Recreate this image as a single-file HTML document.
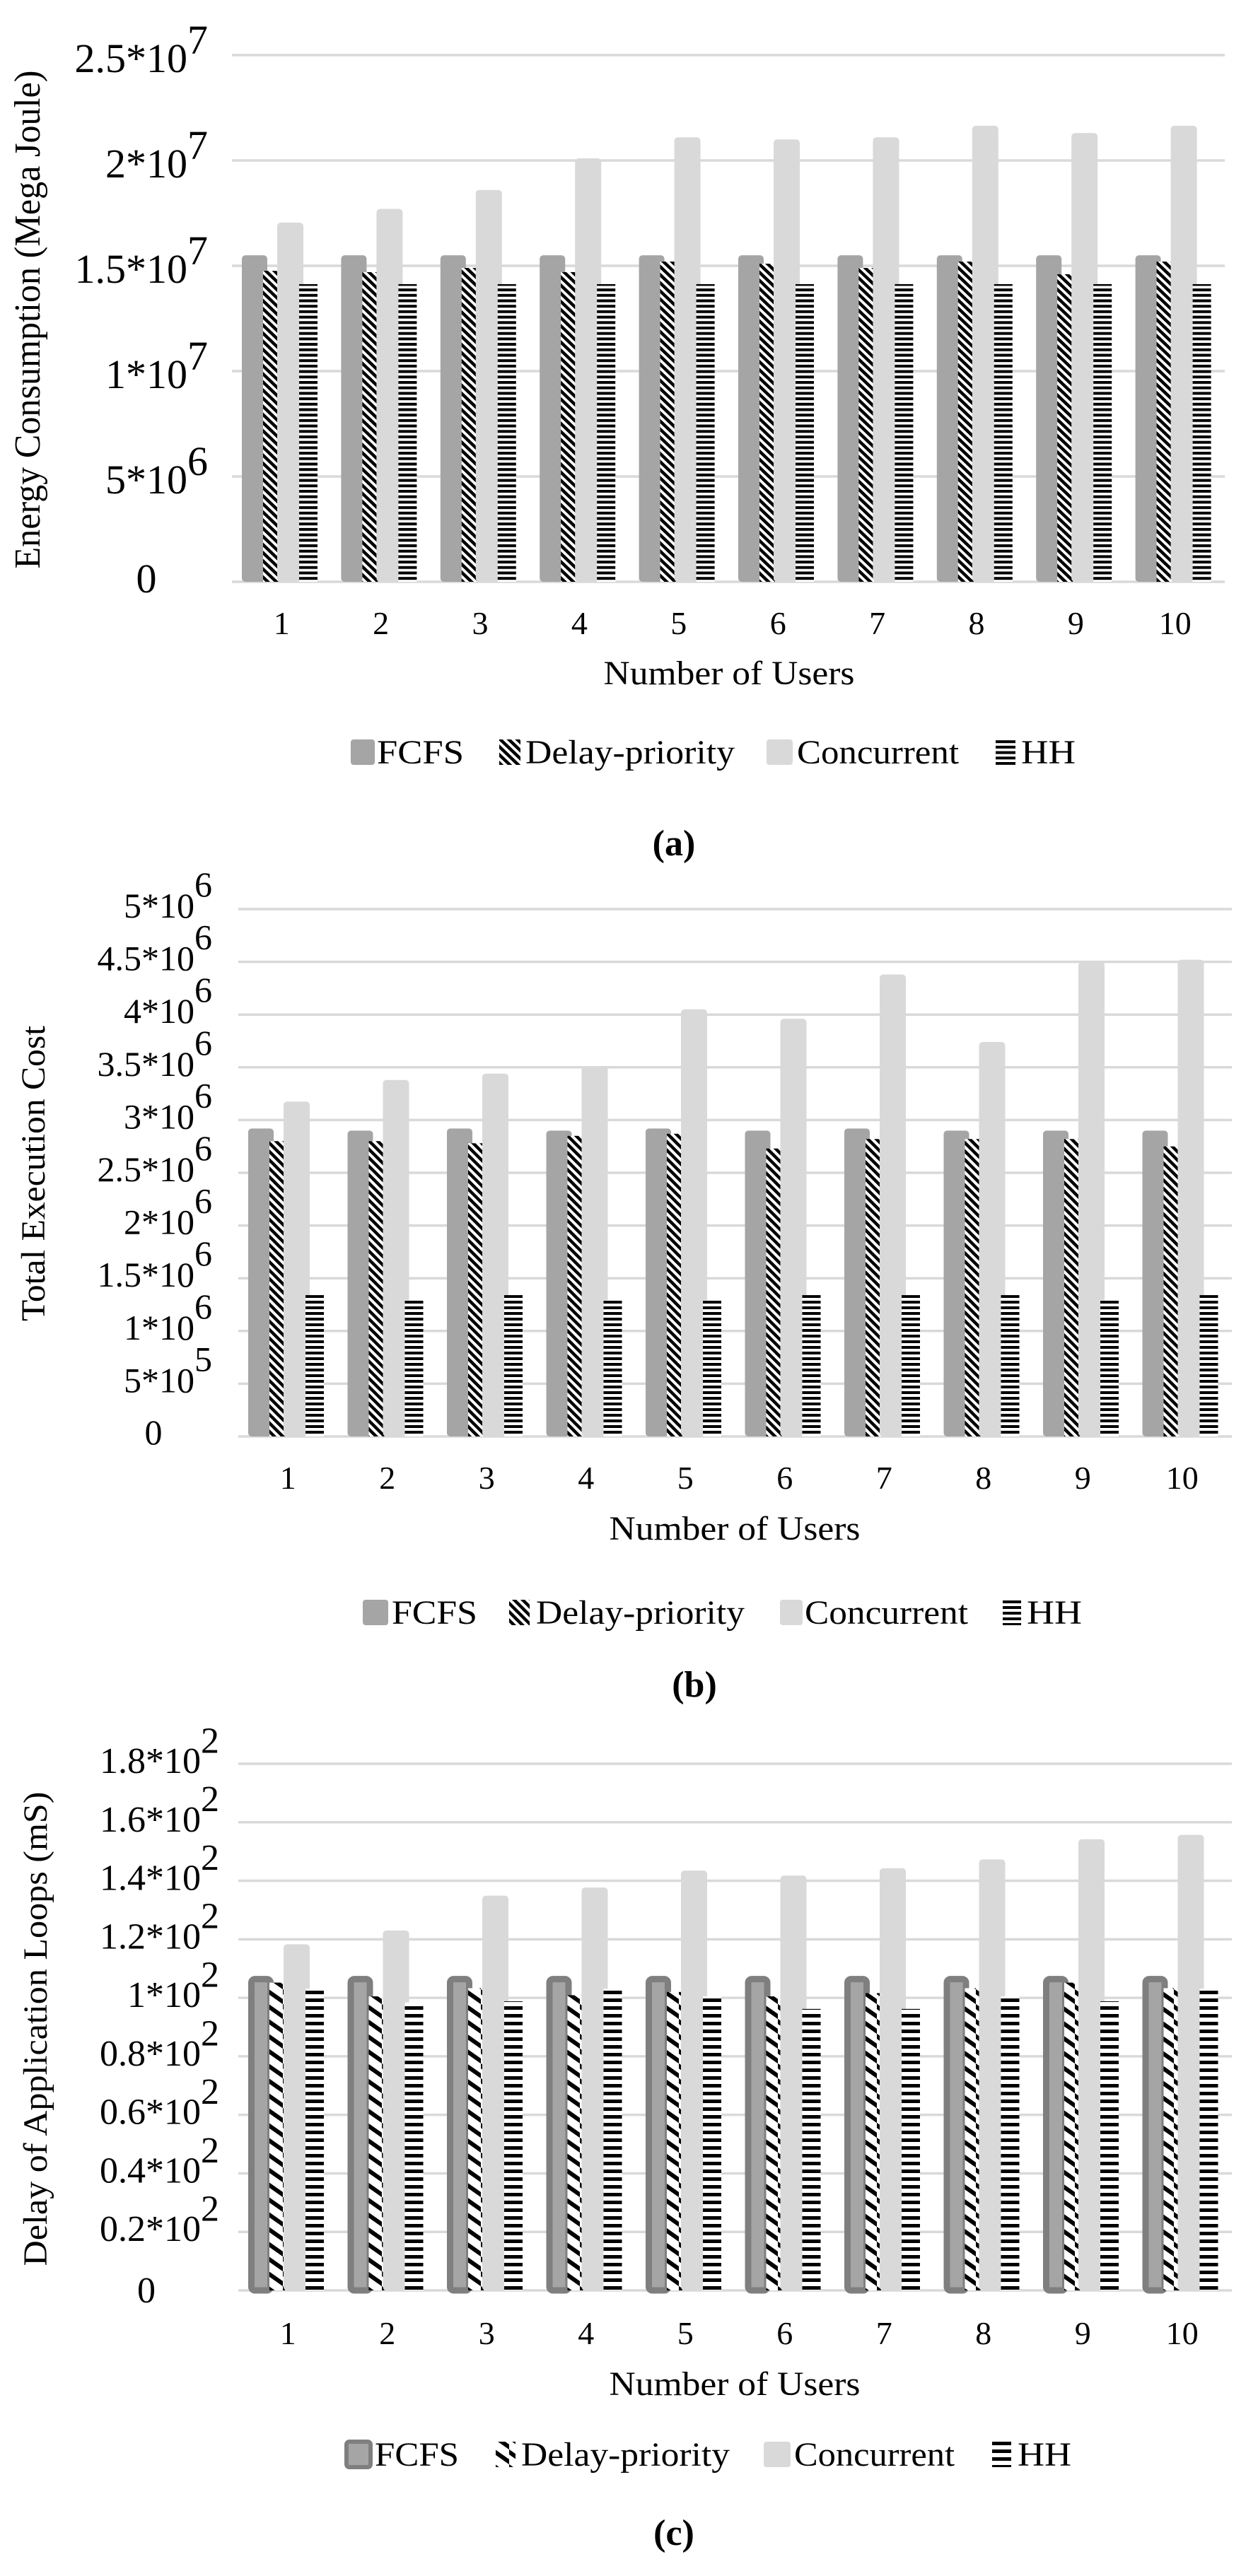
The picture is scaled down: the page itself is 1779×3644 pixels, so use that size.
<!DOCTYPE html>
<html><head><meta charset="utf-8">
<style>
html,body{margin:0;padding:0;background:#fff;}
svg{display:block;font-family:"Liberation Serif","Times New Roman",serif;}
</style></head>
<body>
<svg id="fig" width="1779" height="3644" viewBox="0 0 1779 3644" xmlns="http://www.w3.org/2000/svg">
<defs>
  <pattern id="diagA" patternUnits="userSpaceOnUse" width="12" height="11.5"><rect width="12" height="11.5" fill="#fff"/><path d="M-6,-5.75 L18,17.25 M-6,5.75 L6,17.25 M6,-17.25 L18,-5.75 M6,-5.75 L18,5.75" stroke="#000" stroke-width="4.5"/></pattern>
  <pattern id="diagB" patternUnits="userSpaceOnUse" width="12" height="12"><rect width="12" height="12" fill="#fff"/><path d="M-6,-6 L18,18 M-6,6 L6,18 M6,-6 L18,6" stroke="#000" stroke-width="4.5"/></pattern>
  <pattern id="diagC" patternUnits="userSpaceOnUse" width="20" height="21"><rect width="20" height="21" fill="#fff"/><path d="M-20,-10.5 L40,31.5 M-20,10.5 L10,31.5 M0,-21 L40,7" stroke="#000" stroke-width="6"/></pattern>
  <pattern id="horA" patternUnits="userSpaceOnUse" width="10" height="7.7"><rect width="10" height="7.7" fill="#fff"/><rect y="0" width="10" height="4" fill="#000"/></pattern>
  <pattern id="horB" patternUnits="userSpaceOnUse" width="10" height="8"><rect width="10" height="8" fill="#fff"/><rect y="0" width="10" height="4" fill="#000"/></pattern>
  <pattern id="horC" patternUnits="userSpaceOnUse" width="10" height="11"><rect width="10" height="11" fill="#fff"/><rect y="0" width="10" height="5" fill="#000"/></pattern>
</defs>
<g id="root"></g>
</svg>
<script>
// ---- data ----
const categories = ["1","2","3","4","5","6","7","8","9","10"];
const seriesNames = ["FCFS","Delay-priority","Concurrent","HH"];

const energyFCFS = [1.55e7,1.55e7,1.55e7,1.55e7,1.55e7,1.55e7,1.55e7,1.55e7,1.55e7,1.55e7];
const energyDelay = [1.476e7,1.47e7,1.49e7,1.47e7,1.52e7,1.51e7,1.49e7,1.52e7,1.46e7,1.52e7];
const energyConcurrent = [1.705e7,1.77e7,1.86e7,2.01e7,2.11e7,2.10e7,2.11e7,2.165e7,2.13e7,2.165e7];
const energyHH = [1.413e7,1.413e7,1.413e7,1.413e7,1.413e7,1.413e7,1.413e7,1.413e7,1.413e7,1.413e7];
const energyTicks = [0,5e6,1e7,1.5e7,2e7,2.5e7];
const energyTickMain = ["0","5*10","1*10","1.5*10","2*10","2.5*10"];
const energyTickExp = ["","6","7","7","7","7"];

const costFCFS = [2.92e6,2.90e6,2.92e6,2.90e6,2.92e6,2.90e6,2.92e6,2.90e6,2.90e6,2.90e6];
const costDelay = [2.80e6,2.80e6,2.78e6,2.85e6,2.87e6,2.73e6,2.82e6,2.82e6,2.82e6,2.75e6];
const costConcurrent = [3.175e6,3.38e6,3.44e6,3.51e6,4.05e6,3.96e6,4.38e6,3.74e6,4.50e6,4.52e6];
const costHH = [1.34e6,1.29e6,1.34e6,1.29e6,1.29e6,1.34e6,1.34e6,1.34e6,1.29e6,1.34e6];
const costTicks = [0,5e5,1e6,1.5e6,2e6,2.5e6,3e6,3.5e6,4e6,4.5e6,5e6];
const costTickMain = ["0","5*10","1*10","1.5*10","2*10","2.5*10","3*10","3.5*10","4*10","4.5*10","5*10"];
const costTickExp = ["","5","6","6","6","6","6","6","6","6","6"];

const delayFCFS = [107.5,107.5,107.5,107.5,107.5,107.5,107.5,107.5,107.5,107.5];
const delayDelay = [105.2,100.5,103.3,100.9,102,100.5,101.6,103.3,105.2,103.3];
const delayConcurrent = [118.3,123,134.9,137.7,143.5,141.8,144.3,147.3,154.2,155.7];
const delayHH = [103.1,98.4,98.8,103.1,100.5,96.2,96.2,100.5,98.8,103.1];
const delayTicks = [0,20,40,60,80,100,120,140,160,180];
const delayTickMain = ["0","0.2*10","0.4*10","0.6*10","0.8*10","1*10","1.2*10","1.4*10","1.6*10","1.8*10"];
const delayTickExp = ["","2","2","2","2","2","2","2","2","2"];

const NS = "http://www.w3.org/2000/svg";
const root = document.getElementById("root");
function mk(tag, attrs, parent){
  const e = document.createElementNS(NS, tag);
  for (const k in attrs) e.setAttribute(k, attrs[k]);
  (parent||root).appendChild(e);
  return e;
}

function drawChart(cfg){
  const g = mk("g", {});
  
  
  const maxV = cfg.ticks[cfg.ticks.length-1];
  const yScale = v => cfg.zeroY - (v / maxV) * (cfg.zeroY - cfg.topY);
  const xGroup = i => cfg.left + i * cfg.step;
  // gridlines
  cfg.ticks.forEach((t, i) => {
    const y = yScale(t);
    const ln = mk("line", {x1: cfg.left, x2: cfg.left + cfg.step*categories.length, y1: y, y2: y, stroke: "#d9d9d9", "stroke-width": 3.5}, g);
    
    
    const tx = mk("text", {y: y + (i === 0 ? cfg.zeroOff : cfg.labOff), "font-size": cfg.tickFont, fill: "#000"}, g);
    
    
    if (i === 0) {
      tx.setAttribute("x", cfg.zeroX);
      tx.setAttribute("text-anchor", "middle");
      tx.textContent = cfg.tickMain[i];
    } else {
      tx.setAttribute("x", cfg.labRight);
      tx.setAttribute("text-anchor", "end");
      const t1 = mk("tspan", {}, tx); t1.textContent = cfg.tickMain[i];
      const t2 = mk("tspan", {dy: cfg.supDy, "font-size": cfg.tickFont}, tx); t2.textContent = cfg.tickExp[i];
    }
  });
  // bars
  const specs = [
    {vals: cfg.s[0], off: 14, w: 36, fill: "#a5a5a5", name: "bar-fcfs", rx: 5},
    {vals: cfg.s[1], off: 44, w: 22, fill: "url(#" + cfg.diag + ")", name: "bar-delay-priority", rx: 0},
    {vals: cfg.s[2], off: 64, w: 37, fill: "#d9d9d9", name: "bar-concurrent", rx: 5},
    {vals: cfg.s[3], off: 95, w: 26, fill: "url(#" + cfg.hor + ")", name: "bar-hh", rx: 0}
  ];
  specs.forEach((sp, si) => {
    sp.vals.forEach((v, i) => {
      const x = xGroup(i) + sp.off, y = yScale(v);
      const h = cfg.zeroY - y;
      const r = mk("rect", {x: x, y: y, width: sp.w, height: h, fill: sp.fill, rx: sp.rx}, g);
      
      
      if (si === 0 && cfg.fcfsBorder) {
        r.setAttribute("fill", "#a5a5a5");
        r.setAttribute("stroke", "#7f7f7f");
        r.setAttribute("stroke-width", "9");
        r.setAttribute("x", x + 4.5); r.setAttribute("width", sp.w - 9);
        r.setAttribute("y", y + 4.5); r.setAttribute("height", h - 4.5);
      }
    });
  });
  // x labels
  categories.forEach((c, i) => {
    const t = mk("text", {x: xGroup(i) + cfg.step/2, y: cfg.xTickY, "text-anchor": "middle", "font-size": 46}, g);
    
    
    t.textContent = c;
  });
  const xt = mk("text", {x: cfg.xTitleX, y: cfg.xTitleY, "text-anchor": "middle", "font-size": 48, textLength: 355, lengthAdjust: "spacingAndGlyphs"}, g);
  
  
  xt.textContent = "Number of Users";
  const yt = mk("text", {x: 0, y: 0, "text-anchor": "middle", "font-size": cfg.yTitleFont, textLength: cfg.yTitleLen, lengthAdjust: "spacingAndGlyphs", transform: "translate(" + cfg.yTitleX + "," + cfg.yTitleY + ") rotate(-90)"}, g);
  
  
  yt.textContent = cfg.yTitle;
  // legend
  const L = cfg.legend;
  const lg = mk("g", {}, g);
  
  
  const swFills = ["#a5a5a5", "url(#" + cfg.diag + ")", "#d9d9d9", "url(#" + cfg.hor + ")"];
  seriesNames.forEach((n, i) => {
    const it = L.items[i];
    const sw = mk("rect", {x: it[0], y: L.y - 34, width: it[1], height: 36, fill: swFills[i], rx: (i===0||i===2)?4:0}, lg);
    if (i === 0 && cfg.fcfsBorder) { sw.setAttribute("stroke", "#7f7f7f"); sw.setAttribute("stroke-width", "6"); }
    
    
    const tt = mk("text", {x: it[2], y: L.y, "font-size": 48, textLength: it[3], lengthAdjust: "spacingAndGlyphs"}, lg);
    
    
    tt.textContent = n;
  });
  const cap = mk("text", {x: cfg.capX, y: cfg.capY, "text-anchor": "middle", "font-size": 52, "font-weight": "bold"}, g);
  
  
  cap.textContent = cfg.caption;
}

drawChart({
  name: "chart-energy", left: 328, step: 140.4, zeroY: 823, topY: 78,
  ticks: energyTicks, tickMain: energyTickMain, tickExp: energyTickExp,
  s: [energyFCFS, energyDelay, energyConcurrent, energyHH],
  diag: "diagA", hor: "horA", fcfsBorder: false,
  tickFont: 58, labRight: 294, labOff: 24, zeroX: 207, zeroOff: 15, supDy: "-0.45em",
  xTickY: 897, xTitleX: 1031, xTitleY: 968,
  yTitle: "Energy Consumption (Mega Joule)", yTitleX: 56, yTitleY: 452, yTitleFont: 52, yTitleLen: 705,
  legend: {y: 1080, items: [[496,34,533,123],[706,30,743,296],[1084,37,1127,229],[1408,28,1444,77]]},
  caption: "(a)", capX: 953, capY: 1210
});
drawChart({
  name: "chart-cost", left: 337, step: 140.5, zeroY: 2032, topY: 1286,
  ticks: costTicks, tickMain: costTickMain, tickExp: costTickExp,
  s: [costFCFS, costDelay, costConcurrent, costHH],
  diag: "diagB", hor: "horB", fcfsBorder: false,
  tickFont: 50, labRight: 300, labOff: 12, zeroX: 217, zeroOff: 11, supDy: "-0.6em",
  xTickY: 2106, xTitleX: 1039, xTitleY: 2178,
  yTitle: "Total Execution Cost", yTitleX: 63, yTitleY: 1660, yTitleFont: 48, yTitleLen: 418,
  legend: {y: 2297, items: [[513,36,554,121],[720,29,758,295],[1103,32,1138,231],[1418,26,1452,78]]},
  caption: "(b)", capX: 982, capY: 2400
});
drawChart({
  name: "chart-delay", left: 337, step: 140.5, zeroY: 3240, topY: 2495,
  ticks: delayTicks, tickMain: delayTickMain, tickExp: delayTickExp,
  s: [delayFCFS, delayDelay, delayConcurrent, delayHH],
  diag: "diagC", hor: "horC", fcfsBorder: true,
  tickFont: 52, labRight: 310, labOff: 13, zeroX: 207, zeroOff: 17, supDy: "-0.55em",
  xTickY: 3316, xTitleX: 1039, xTitleY: 3388,
  yTitle: "Delay of Application Loops (mS)", yTitleX: 66, yTitleY: 2870, yTitleFont: 48, yTitleLen: 671,
  legend: {y: 3488, items: [[490,34,530,119],[701,28,737,295],[1080,38,1123,227],[1403,27,1439,76]]},
  caption: "(c)", capX: 953, capY: 3600
});
</script>
</body></html>
